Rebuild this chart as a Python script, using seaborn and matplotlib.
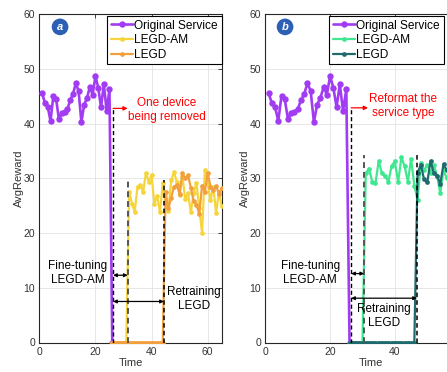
import numpy as np
import pandas as pd
import seaborn as sns
import matplotlib
matplotlib.use("Agg")
import matplotlib.pyplot as plt

# ---------------- data ----------------
orig_time = list(range(1, 27))
orig_reward = [45.6, 43.8, 43.1, 40.5, 45.1, 44.5, 40.8, 42.0, 42.2, 42.6,
               44.3, 45.4, 47.4, 46.0, 40.3, 43.5, 44.7, 46.7, 45.3, 48.7,
               46.6, 43.0, 47.2, 42.3, 46.3, 0.0]

# panel a: one device removed
a_am_time = list(range(26, 66))
a_am_reward = [0, 0, 0, 0, 0, 0,
               27.6, 25.4, 23.9, 28.5, 28.8, 27.5, 31.0, 29.4, 30.6, 25.3,
               26.8, 23.8, 29.1, 25.5, 24.1, 29.7, 31.1, 29.4, 27.0, 30.4,
               26.2, 27.3, 23.8, 27.3, 29.2, 24.5, 20.1, 31.5, 29.0, 26.0,
               28.5, 23.7, 27.5, 25.0]
a_legd_time = list(range(26, 66))
a_legd_reward = [0] * 19 + [
               27.6, 24.5, 26.5, 28.5, 28.8, 27.2, 31.0, 30.0, 30.6, 28.3,
               25.8, 25.2, 23.5, 28.7, 27.6, 31.0, 28.5, 27.8, 28.6, 27.2,
               28.2]

# panel b: reformat the service type
b_am_time = list(range(26, 58))
b_am_reward = [0, 0, 0, 0, 0,
               30.9, 31.8, 29.4, 29.1, 33.2, 30.9, 30.4, 29.4, 32.3, 33.1,
               29.3, 33.9, 32.2, 29.4, 33.6, 28.7, 26.0, 32.9, 31.5, 32.4,
               31.0, 32.5, 30.5, 27.3, 31.5, 30.0, 31.0]
b_legd_time = list(range(26, 58))
b_legd_reward = [0] * 21 + [
               31.0, 32.5, 29.8, 29.3, 33.2, 31.0, 30.5, 29.0, 32.6, 31.5,
               30.8]

legend_labels = ["Original Service", "LEGD-AM", "LEGD"]
a_x_ticks = [0, 20, 40, 60]
b_x_ticks = [0, 20, 40]
y_ticks = [0, 10, 20, 30, 40, 50, 60]

# event annotations (time, top)
a_events = dict(change=26.3, change_top=42.8, am_ready=31.5, legd_ready=44.4, ready_top=29.7)
b_events = dict(change=26.5, change_top=42.9, am_ready=30.5, legd_ready=46.8, ready_top=34.3)

# ---------------- style ----------------
sns.set_theme(style="whitegrid")
plt.rcParams["font.family"] = ["Liberation Sans", "DejaVu Sans"]
plt.rcParams["axes.linewidth"] = 0.8

PURPLE = "#A23CF2"
YELLOW = "#F6D53C"
ORANGE = "#F2A03F"
GREEN = "#3FE890"
TEAL = "#1E6A6C"
TXT = "#262626"

fig = plt.figure(figsize=(4.47, 3.72), dpi=100)
W, H = 447.0, 372.0
bottom = (H - 342.5) / H
height = (342.5 - 14.3) / H
ax_a = fig.add_axes([39.3 / W, bottom, 182.4 / W, height])
ax_b = fig.add_axes([265.3 / W, bottom, 65 * 3.24 / W, height])


def draw(ax, am_t, am_r, am_c, lg_t, lg_r, lg_c, ev, red_text, red_xy, arrow_ys,
         ft_xy, rt_xy, letter, letter_xy, xmax, xticks, leg_anchor):
    sns.lineplot(x=orig_time, y=orig_reward, ax=ax, color=PURPLE, marker="o",
                 markersize=4.6, linewidth=1.9, markeredgewidth=0, zorder=3)
    sns.lineplot(x=am_t, y=am_r, ax=ax, color=am_c, marker="o",
                 markersize=3.4, linewidth=1.6, markeredgewidth=0, zorder=4)
    sns.lineplot(x=lg_t, y=lg_r, ax=ax, color=lg_c, marker="o",
                 markersize=3.4, linewidth=1.6, markeredgewidth=0, zorder=5)

    # dashed event lines
    ax.plot([ev["change"]] * 2, [0, ev["change_top"]], color="black",
            linestyle=(0, (3, 2)), linewidth=1.0, zorder=6)
    ax.plot([ev["am_ready"]] * 2, [0, ev["ready_top"]], color="#555555",
            linestyle=(0, (3, 2)), linewidth=1.4, zorder=6)
    ax.plot([ev["legd_ready"]] * 2, [0, ev["ready_top"]], color="black",
            linestyle=(0, (3, 2)), linewidth=1.1, zorder=6)

    # red arrow + text
    ax.annotate("", xy=(ev["change"] + 5.2, ev["change_top"]),
                xytext=(ev["change"], ev["change_top"]),
                arrowprops=dict(arrowstyle="-|>", color="red", lw=0.9,
                                mutation_scale=6, shrinkA=0, shrinkB=0), zorder=7)
    ax.text(red_xy[0], red_xy[1], red_text, color="red", fontsize=8.5,
            ha="center", va="center", linespacing=1.25)

    # double arrows
    ax.annotate("", xy=(ev["am_ready"], arrow_ys[0]), xytext=(ev["change"], arrow_ys[0]),
                arrowprops=dict(arrowstyle="<|-|>", color="black", lw=0.9,
                                mutation_scale=5, shrinkA=0, shrinkB=0), zorder=7)
    ax.annotate("", xy=(ev["legd_ready"], arrow_ys[1]), xytext=(ev["change"], arrow_ys[1]),
                arrowprops=dict(arrowstyle="<|-|>", color="black", lw=0.9,
                                mutation_scale=5, shrinkA=0, shrinkB=0), zorder=7)
    ax.text(ft_xy[0], ft_xy[1], "Fine-tuning\nLEGD-AM", color="black", fontsize=8.5,
            ha="center", va="center", linespacing=1.25)
    ax.text(rt_xy[0], rt_xy[1], "Retraining\nLEGD", color="black", fontsize=8.5,
            ha="center", va="center", linespacing=1.25, zorder=8)

    # panel letter
    ax.text(letter_xy[0], letter_xy[1], letter, color="white", fontsize=8,
            fontweight="bold", style="italic", ha="center", va="center",
            bbox=dict(boxstyle="circle,pad=0.3", fc="#2D5FB5", ec="none"))

    ax.set_xlim(0, xmax)
    ax.set_ylim(0, 60)
    ax.set_xticks(xticks)
    ax.set_yticks(y_ticks)
    ax.grid(True, color="#E3E3E3", linewidth=0.6)
    ax.set_facecolor("white")
    for s in ax.spines.values():
        s.set_color(TXT)
        s.set_linewidth(0.8)
    ax.tick_params(direction="in", length=3, width=0.6, colors=TXT,
                   labelsize=7.5, top=True, right=True, pad=3,
                   labelcolor="#333333")
    ax.set_xlabel("Time", fontsize=8, color="#333333", labelpad=1)
    ax.set_ylabel("AvgReward", fontsize=8, color="#333333", labelpad=-0.5)

    handles = ax.get_lines()[:3]
    leg = ax.legend(handles, legend_labels, loc="upper right",
                    bbox_to_anchor=leg_anchor, bbox_transform=fig.transFigure,
                    fontsize=8.6, frameon=True, fancybox=False, framealpha=1,
                    edgecolor="black", borderpad=0.3, labelspacing=0.22,
                    handlelength=1.8, handletextpad=0.15, borderaxespad=0)
    leg.get_frame().set_linewidth(0.8)
    for txt in leg.get_texts():
        txt.set_color("black")


draw(ax_a, a_am_time, a_am_reward, YELLOW, a_legd_time, a_legd_reward, ORANGE,
     a_events, "One device\nbeing removed", (45.5, 42.5), (12.3, 7.5),
     (13.8, 12.65), (55.2, 7.95), "a", (7.4, 57.7), 65, a_x_ticks,
     (221.5 / W, 1 - 16 / H))
draw(ax_b, b_am_time, b_am_reward, GREEN, b_legd_time, b_legd_reward, TEAL,
     b_events, "Reformat the\nservice type", (42.5, 43.3), (12.6, 8.1),
     (13.9, 12.65), (36.7, 4.85), "b", (6.1, 57.7), 65, b_x_ticks,
     (443.5 / W, 1 - 16 / H))

fig.savefig("out.png", dpi=100)
